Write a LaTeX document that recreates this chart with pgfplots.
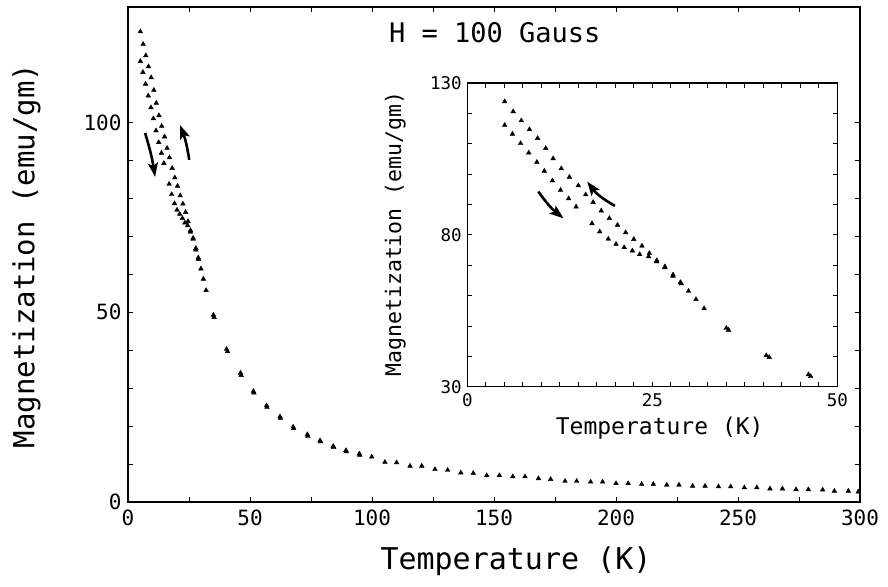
\documentclass[border=0pt]{standalone}
\usepackage{fontspec}
\usepackage{pgfplots}
\usepackage{pgfplotstable}
\pgfplotsset{compat=1.18}
\usetikzlibrary{arrows.meta}
\setmainfont{DejaVu Sans Mono}
\newcommand{\fs}[1]{\fontsize{#1}{#1}\selectfont}

% Field-cooled branch (upper curve), T in K, M in emu/gm
\pgfplotstableread{
T M
5.05 124.0
6.2 120.7
7.3 117.7
8.4 114.8
9.5 111.9
10.6 108.6
11.6 105.2
12.7 101.9
13.8 99.1
15.0 96.3
16.0 93.3
17.0 90.8
18.1 88.0
19.2 85.5
20.3 83.3
21.4 80.8
22.5 78.6
23.6 76.4
24.6 74.0
25.6 71.2
26.7 69.3
27.8 66.5
28.8 64.4
29.9 61.5
30.9 58.8
32.0 55.8
35.0 49.3
40.4 40.3
46.1 34.0
51.4 29.2
56.8 25.4
62.3 22.5
67.7 19.8
73.5 17.8
78.7 16.2
84.1 14.7
89.3 13.6
94.8 12.7
99.9 11.9
105.3 10.5
110.1 10.4
115.6 9.5
120.4 9.5
125.8 8.6
131.0 8.4
136.4 7.7
141.5 7.6
147.0 7.0
152.2 7.0
157.7 6.7
162.7 6.7
168.2 6.2
173.2 6.0
179.1 5.5
183.9 5.5
189.6 5.3
194.5 5.3
200.0 4.9
205.0 4.9
210.5 4.7
215.3 4.7
220.8 4.5
225.8 4.5
231.4 4.2
236.5 4.2
242.0 4.05
247.0 4.05
252.6 3.8
257.7 3.8
263.1 3.5
268.2 3.5
273.8 3.3
278.8 3.3
284.7 3.2
289.5 2.9
295.2 2.9
299.3 2.7
}\cooling

% Warming branch (lower curve)
\pgfplotstableread{
T M
5.05 116.2
6.1 113.3
7.2 110.2
8.3 107.1
9.4 104.0
10.4 101.1
11.5 97.9
12.6 94.8
13.7 92.0
14.7 89.3
16.85 83.8
17.9 81.1
19.05 78.7
20.1 77.0
21.2 75.9
22.3 74.8
23.3 73.6
24.5 72.9
25.6 71.6
26.7 69.6
27.8 66.9
28.9 64.0
35.3 48.7
40.8 39.7
46.4 33.4
51.6 28.8
57.0 25.0
62.5 22.1
67.9 19.4
73.7 17.4
78.9 15.9
84.3 14.4
89.5 13.3
95.0 12.4
}\warming

\pgfplotsset{
  magstyle/.style={only marks, mark=triangle*, mark size=2.7pt,
    mark options={fill=black, draw=black, line width=0.4pt}},
}
\tikzset{
  hyst/.style={line width=2.6pt, -{Stealth[length=14pt, width=10pt, inset=3pt]}},
}

\begin{document}
\begin{tikzpicture}
\useasboundingbox (0pt,0pt) rectangle (888pt,586pt);

% main panel
\begin{axis}[
  at={(128pt,84pt)}, anchor=south west,
  width=732pt, height=495pt, scale only axis,
  xmin=0, xmax=300, ymin=0, ymax=130.5,
  xtick={0,50,...,300}, minor x tick num=1,
  ytick={0,50,100}, minor y tick num=4,
  tick align=inside, major tick length=5pt, minor tick length=5pt,
  axis line style={line width=1.6pt},
  every tick/.style={line width=1pt, black},
  /pgf/number format/assume math mode=true,
  ticklabel style={font=\fs{21}},
  xticklabel style={yshift=-4pt},
  yticklabel style={xshift=-3pt},
  xlabel={Temperature (K)},
  xlabel style={font=\fs{30}, at={(axis description cs:0.530,-0.137)}, anchor=base},
  ylabel={Magnetization (emu/gm)},
  ylabel style={font=\fs{29}, at={(axis description cs:-0.128,0.497)}, anchor=base},
]
\addplot[magstyle] table[x=T, y=M] {\cooling};
\addplot[magstyle] table[x=T, y=M] {\warming};
\draw[hyst] (axis cs:7.0,97.3) to[bend left=4] (axis cs:11.1,85.7);
\draw[hyst] (axis cs:25.1,90.2) to[bend right=6] (axis cs:21.3,99.4);
\node[font=\fs{27}, anchor=base] at (axis description cs:0.501,0.929) {H = 100 Gauss};
\end{axis}

% inset: low-temperature region
\begin{axis}[
  at={(467.3pt,199.3pt)}, anchor=south west,
  width=370pt, height=303.4pt, scale only axis,
  axis background/.style={fill=white},
  xmin=0, xmax=50, ymin=30, ymax=130,
  xtick={0,25,50}, minor x tick num=9,
  ytick={30,80,130}, minor y tick num=4,
  tick align=inside, major tick length=4.5pt, minor tick length=4.5pt,
  axis line style={line width=1.6pt},
  every tick/.style={line width=1pt, black},
  /pgf/number format/assume math mode=true,
  ticklabel style={font=\fs{17.5}},
  xticklabel style={yshift=-3pt},
  yticklabel style={xshift=-2pt},
  xlabel={Temperature (K)},
  xlabel style={font=\fs{23}, at={(axis description cs:0.52,-0.156)}, anchor=base},
  ylabel={Magnetization (emu/gm)},
  ylabel style={font=\fs{21.5}, at={(axis description cs:-0.179,0.503)}, anchor=base},
]
\addplot[magstyle] table[x=T, y=M] {\cooling};
\addplot[magstyle] table[x=T, y=M] {\warming};
\draw[hyst] (axis cs:9.6,94.3) to[bend right=8] (axis cs:13.0,85.5);
\draw[hyst] (axis cs:19.95,89.6) to[bend left=12] (axis cs:16.2,97.6);
\end{axis}
\end{tikzpicture}
\end{document}
